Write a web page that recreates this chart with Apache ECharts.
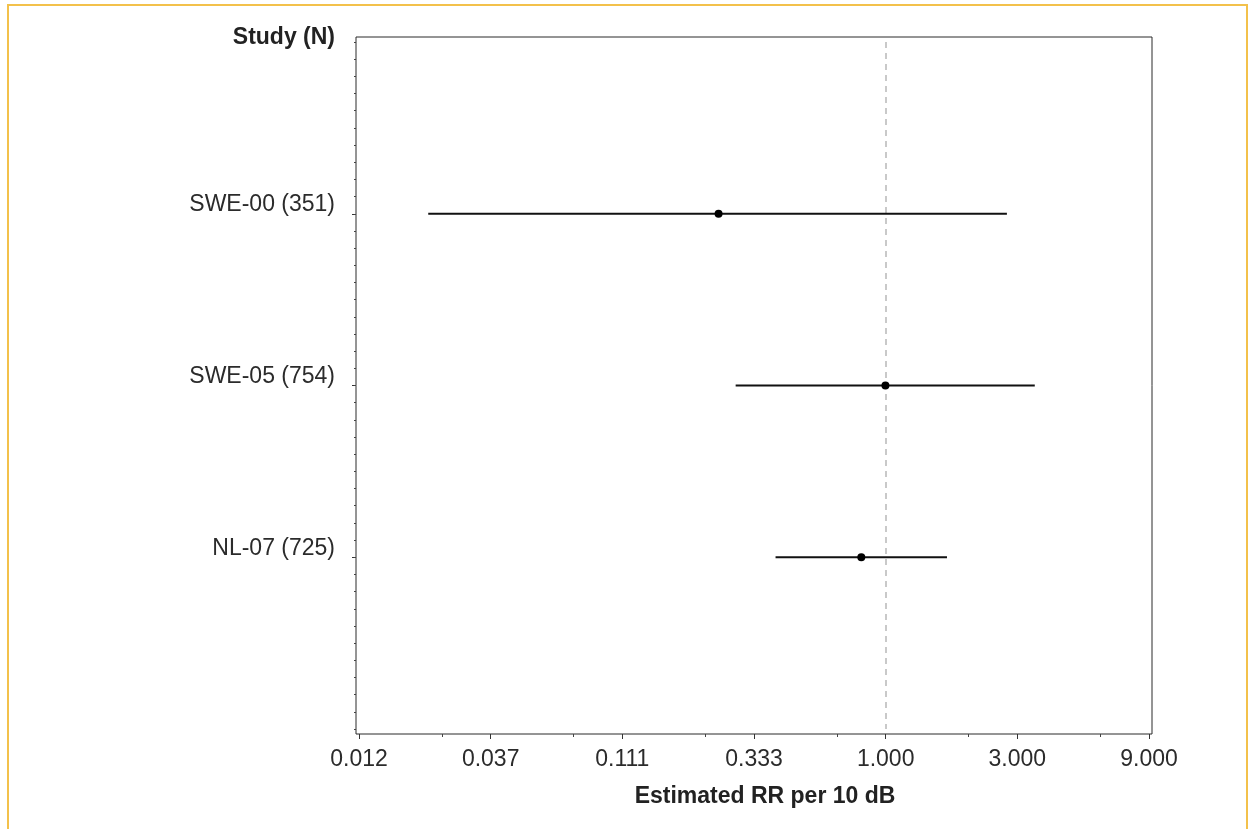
<!DOCTYPE html>
<html>
<head>
<meta charset="utf-8">
<script src="https://cdn.jsdelivr.net/npm/echarts@6/dist/echarts.min.js"></script>
<style>
html,body{margin:0;padding:0;background:#fff;}
#chart{width:1248px;height:829px;}
</style>
</head>
<body>
<div id="chart"></div>
<script>
// ---- data ----
var studies = ['SWE-00 (351)', 'SWE-05 (754)', 'NL-07 (725)'];
var rowPos = [1, 2, 3];
var estimate = [0.248, 0.998, 0.816];
var lower = [0.0220, 0.286, 0.399];
var upper = [2.75, 3.47, 1.668];
var xMajorTicks = [0.012345679, 0.037037037, 0.111111111, 0.333333333, 1, 3, 9];
var xMinorTicks = [0.024691358, 0.074074074, 0.222222222, 0.666666667, 2, 6];
var refValue = 1;

var FONT = "'Liberation Sans', Arial, sans-serif";
var chart = echarts.init(document.getElementById('chart'), null, {renderer: 'canvas'});

var ciData = studies.map(function (s, i) { return [lower[i], upper[i], rowPos[i]]; });
var ptData = studies.map(function (s, i) { return [estimate[i], rowPos[i]]; });

var option = {
  animation: false,
  backgroundColor: '#fff',
  title: {
    text: 'Study (N)',
    right: 913,
    top: 26,
    padding: 0,
    textStyle: {fontFamily: FONT, fontSize: 23, fontWeight: 'bold', color: '#222'}
  },
  graphic: [{
    type: 'rect',
    shape: {x: 8, y: 5, width: 1239, height: 900},
    style: {fill: 'none', stroke: '#F3C14B', lineWidth: 2},
    silent: true, z: -1
  }],
  grid: [
    {left: 359, right: 99, top: 42, bottom: 100, show: false},
    {left: 356, right: 96, top: 37, bottom: 95, show: true, borderColor: '#2a2a2a', borderWidth: 1, backgroundColor: 'transparent'}
  ],
  xAxis: [
    {
      type: 'log', logBase: 3, gridIndex: 0, position: 'bottom', offset: 5,
      min: xMajorTicks[0], max: xMajorTicks[xMajorTicks.length - 1],
      axisLine: {show: false, onZero: false},
      axisTick: {show: true, length: 5, customValues: xMajorTicks, lineStyle: {color: '#333'}},
      axisLabel: {
        customValues: xMajorTicks, margin: 14,
        fontFamily: FONT, fontSize: 23, color: '#2b2b2b',
        formatter: function (v) { return Number(v).toFixed(3); }
      },
      splitLine: {show: false},
      name: 'Estimated RR per 10 dB', nameLocation: 'middle', nameGap: 51,
      nameTextStyle: {fontFamily: FONT, fontSize: 23, fontWeight: 'bold', color: '#222', padding: [0, 0, 0, 22]}
    },
    {
      type: 'log', logBase: 3, gridIndex: 0, position: 'bottom', offset: 5,
      min: xMajorTicks[0], max: xMajorTicks[xMajorTicks.length - 1],
      axisLine: {show: false, onZero: false},
      axisTick: {show: true, length: 3, customValues: xMinorTicks, lineStyle: {color: '#444'}},
      axisLabel: {show: false},
      splitLine: {show: false}
    },
    {type: 'value', gridIndex: 1, show: false, min: 0, max: 1}
  ],
  yAxis: [
    {
      type: 'value', gridIndex: 0, position: 'left', offset: 3, inverse: true,
      min: 0, max: 4, interval: 1,
      axisLine: {show: false, onZero: false},
      axisTick: {show: true, length: 4, customValues: rowPos, lineStyle: {color: '#333'}},
      axisLabel: {
        customValues: rowPos, margin: 21,
        fontFamily: FONT, fontSize: 23, color: '#2b2b2b',
        verticalAlign: 'bottom', lineHeight: 18,
        formatter: function (v) { var i = rowPos.indexOf(Math.round(v)); return i >= 0 ? studies[i] : ''; }
      },
      splitLine: {show: false}
    },
    {
      type: 'value', gridIndex: 0, position: 'left', offset: 3, inverse: true,
      min: 0, max: 4, interval: 0.1,
      axisLine: {show: false, onZero: false},
      axisTick: {show: true, length: 2, lineStyle: {color: '#444'}},
      axisLabel: {show: false},
      splitLine: {show: false}
    },
    {type: 'value', gridIndex: 1, show: false, min: 0, max: 1}
  ],
  series: [
    {
      type: 'custom',
      xAxisIndex: 0, yAxisIndex: 0,
      data: ciData,
      encode: {x: [0, 1], y: 2},
      renderItem: function (params, api) {
        var p1 = api.coord([api.value(0), api.value(2)]);
        var p2 = api.coord([api.value(1), api.value(2)]);
        return {
          type: 'line',
          shape: {x1: p1[0], y1: p1[1], x2: p2[0], y2: p2[1]},
          style: {stroke: '#111', lineWidth: 1.8}
        };
      },
      z: 2,
      markLine: {
        silent: true, symbol: 'none', label: {show: false}, z: 1,
        lineStyle: {type: [6, 5], color: '#b8b8b8', width: 1.5},
        data: [{xAxis: refValue}]
      }
    },
    {
      type: 'scatter',
      xAxisIndex: 0, yAxisIndex: 0,
      data: ptData,
      symbol: 'circle', symbolSize: 8,
      itemStyle: {color: '#000', opacity: 1},
      z: 5
    }
  ]
};
chart.setOption(option);
</script>
</body>
</html>
